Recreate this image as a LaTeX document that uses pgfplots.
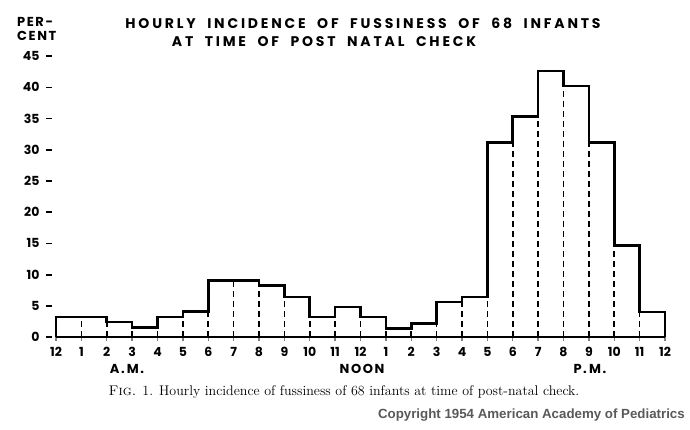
\documentclass[border=0pt]{standalone}
\usepackage{pgfplots}
\pgfplotsset{compat=1.18}
\usepackage{fontspec}
\newfontfamily\poptitle[LetterSpace=20]{Poppins}
\newfontfamily\popsp[LetterSpace=12]{Poppins}
\newfontfamily\pop{Poppins}
\newfontfamily\cpy{Liberation Sans}
\newcommand\tdash{\hspace{7pt}\rule[3.6pt]{6pt}{1.7pt}}

\begin{document}
\begin{tikzpicture}[x=1pt,y=1pt]
\path[use as bounding box] (0,0) rectangle (690,430);
\begin{axis}[
  at={(56pt,93pt)}, anchor=origin,
  scale only axis, width=609pt, height=281pt,
  xmin=0, xmax=24, ymin=0, ymax=45,
  clip=false,
  axis x line=bottom, axis y line=left,
  x axis line style={line width=2pt,-},
  y axis line style={draw=none},
  xtick={0,...,24},
  xticklabels={12,1,2,3,4,5,6,7,8,9,10,11,12,1,2,3,4,5,6,7,8,9,10,11,12},
  ytick={0,5,...,45},
  yticklabels={0\tdash,5\tdash,10\tdash,15\tdash,20\tdash,25\tdash,30\tdash,35\tdash,40\tdash,45\tdash},
  ytick style={draw=none},
  xtick style={line width=1.4pt},
  tick align=outside, major tick length=4pt,
  ticklabel style={font=\pop\bfseries\fontsize{12.5}{12.5}\selectfont},
  yticklabel style={anchor=east, xshift=4pt},
  xticklabel style={yshift=-3pt},
]
% dashed hour lines inside the bars
\addplot[ycomb, line width=1.6pt, dash pattern=on 6pt off 4pt, mark=none] coordinates {
  (1,3.2) (2,2.4) (3,1.5) (4,1.5) (5,3.2) (6,4.1) (7,9.0) (8,8.2)
  (9,6.4) (10,3.2) (11,3.2) (12,3.2) (13,1.4) (14,1.4) (15,2.2) (16,5.6)
  (17,6.4) (18,31.1) (19,35.3) (20,40.2) (21,31.1) (22,14.7) (23,4.0)
};
% histogram outline
\addplot[const plot, line width=2.6pt, mark=none] coordinates {
  (0,0) (0,3.2) (1,3.2) (2,2.4) (3,1.5) (4,3.2) (5,4.1) (6,9.0) (7,9.0)
  (8,8.2) (9,6.4) (10,3.2) (11,4.8) (12,3.2) (13,1.4) (14,2.2) (15,5.6)
  (16,6.4) (17,31.1) (18,35.3) (19,42.6) (20,40.2) (21,31.1) (22,14.7)
  (23,4.0) (24,4.0) (24,0)
};
\node[font=\popsp\bfseries\fontsize{13}{13}\selectfont] at (axis cs:2.8,0) [yshift=-32pt] {A.\,M.};
\node[font=\popsp\bfseries\fontsize{13}{13}\selectfont] at (axis cs:12.06,0) [yshift=-32pt] {NOON};
\node[font=\popsp\bfseries\fontsize{13}{13}\selectfont] at (axis cs:21.04,0) [yshift=-32pt] {P.\,M.};
\end{axis}
\node[font=\poptitle\bfseries\fontsize{14}{14}\selectfont] at (363,407) {HOURLY\ \ INCIDENCE\ \ OF\ \ FUSSINESS\ \ OF\ \ 68\ \ INFANTS};
\node[font=\poptitle\bfseries\fontsize{14}{14}\selectfont] at (324,388) {AT\ \ TIME\ \ OF\ \ POST\ \ NATAL\ \ CHECK};
\node[font=\popsp\bfseries\fontsize{13}{14}\selectfont, anchor=west, align=left, inner sep=0pt] at (17,401) {PER-\\CENT};
\node[font=\rmfamily\fontsize{14}{14}\selectfont] at (344,38) {\textsc{Fig.} 1. Hourly incidence of fussiness of 68 infants at time of post-natal check.};
\node[font=\cpy\bfseries\fontsize{13.3}{13.3}\selectfont, text=black!65, anchor=east, inner sep=0pt] at (685,15) {Copyright 1954 American Academy of Pediatrics};
\end{tikzpicture}
\end{document}
